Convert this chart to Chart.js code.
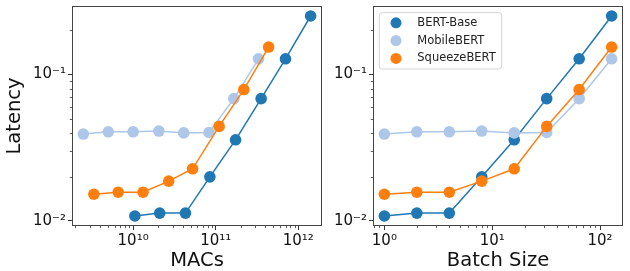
<!DOCTYPE html>
<html>
<head>
<meta charset="utf-8">
<script src="https://cdn.jsdelivr.net/npm/chart.js@4.4.0/dist/chart.umd.min.js"></script>
<style>
html, body { margin: 0; padding: 0; background: #fff; }
#wrap { position: relative; width: 630px; height: 271px; }
canvas { position: absolute; top: 0; }
</style>
</head>
<body>
<div id="wrap">
  <canvas id="left" width="330" height="271" style="left:0"></canvas>
  <canvas id="right" width="300" height="271" style="left:330px"></canvas>
</div>
<script>
// data
const modelNames = ['BERT-Base', 'MobileBERT', 'SqueezeBERT']
const modelColors = ['#1f77b4', '#aec7e8', '#ff7f0e']

const batchSizes = [1, 2, 4, 8, 16, 32, 64, 128]

const macsBert = [1.05e10, 2.1e10, 4.3e10, 8.5e10, 1.74e11, 3.55e11, 7.0e11, 1.41e12]
const macsMobile = [2.5e9, 5.0e9, 1.0e10, 2.05e10, 4.1e10, 8.3e10, 1.66e11, 3.3e11]
const macsSqueeze = [3.35e9, 6.6e9, 1.32e10, 2.7e10, 5.25e10, 1.1e11, 2.19e11, 4.37e11]

const latBert = [0.0108, 0.0113, 0.0113, 0.0200, 0.0358, 0.0684, 0.128, 0.251]
const latMobile = [0.0392, 0.0406, 0.0406, 0.0411, 0.0399, 0.0402, 0.0684, 0.128]
const latSqueeze = [0.0152, 0.0157, 0.0157, 0.0187, 0.0227, 0.0442, 0.0789, 0.154]

// labelled (major) ticks
const macsTicks = [1e10, 1e11, 1e12]
const batchTicks = [1, 10, 100]
const latencyTicks = [0.01, 0.1]

const FONT = 'DejaVu Sans'
const sup = {'0':'⁰','1':'¹','2':'²','3':'³','4':'⁴','5':'⁵','6':'⁶','7':'⁷','8':'⁸','9':'⁹','-':'⁻'}

function powLabel(v) {
    let e = String(Math.round(Math.log10(v)))
    return '10' + e.split('').map(c => sup[c]).join('')
}

// matplotlib style 5% margin on a log axis
function logRange(arrays) {
    let all = [].concat(...arrays).map(v => Math.log10(v))
    let lo = Math.min(...all), hi = Math.max(...all)
    let m = (hi - lo) * 0.05
    return [Math.pow(10, lo - m), Math.pow(10, hi + m)]
}

function makeTicks(majors, min, max) {
    let ticks = []
    for (let d = Math.floor(Math.log10(min)); d <= Math.floor(Math.log10(max)); d++) {
        for (let k = 1; k <= 9; k++) {
            let v = k * Math.pow(10, d)
            if (v < min || v > max) continue
            ticks.push({ value: v, major: majors.some(m => Math.abs(m - v) / m < 1e-9) })
        }
    }
    return ticks
}

function logAxis(range, majors, size, title, titlePad) {
    return {
        type: 'logarithmic',
        min: range[0],
        max: range[1],
        bounds: 'data',
        afterBuildTicks: s => { s.ticks = makeTicks(majors, range[0], range[1]) },
        afterFit: s => {
            if (s.isHorizontal()) s.height = size
            else s.width = size
            s.paddingTop = s.paddingBottom = s.paddingLeft = s.paddingRight = 0
        },
        ticks: {
            autoSkip: false,
            maxRotation: 0,
            padding: 2,
            color: '#111',
            font: { family: FONT, size: 15 },
            callback: (v, i, t) => t[i].major ? powLabel(v) : ''
        },
        grid: {
            drawOnChartArea: false,
            drawTicks: true,
            tickLength: 4,
            tickWidth: 1,
            tickColor: c => (c.tick && c.tick.major) ? '#333' : 'rgba(0,0,0,0)'
        },
        border: { display: false },
        title: title ? {
            display: true,
            text: title,
            color: '#111',
            font: { family: FONT, size: 19.5 },
            padding: titlePad
        } : { display: false }
    }
}

// spines, minor ticks and the legend box
const framePlugin = {
    id: 'frame',
    afterDraw(chart, args, opts) {
        let ctx = chart.ctx
        let a = chart.chartArea
        ctx.save()
        ctx.strokeStyle = '#333'
        ctx.lineWidth = 0.8
        let sx = chart.scales.x, sy = chart.scales.y
        sx.ticks.forEach(t => {
            if (t.major) return
            let p = Math.round(sx.getPixelForValue(t.value)) + 0.5
            ctx.beginPath(); ctx.moveTo(p, a.bottom); ctx.lineTo(p, a.bottom + 2.2); ctx.stroke()
        })
        sy.ticks.forEach(t => {
            if (t.major) return
            let p = Math.round(sy.getPixelForValue(t.value)) + 0.5
            ctx.beginPath(); ctx.moveTo(a.left, p); ctx.lineTo(a.left - 2.2, p); ctx.stroke()
        })
        ctx.strokeStyle = '#444'
        ctx.lineWidth = 1
        ctx.strokeRect(a.left + 0.5, a.top + 0.5, a.right - a.left - 1, a.bottom - a.top - 1)

        if (opts.legend) {
            let x0 = a.left + 6.3, y0 = a.top + 6.7
            ctx.beginPath()
            ctx.roundRect(x0, y0, 122.4, 56.3, 3)
            ctx.fillStyle = 'rgba(255,255,255,0.8)'
            ctx.fill()
            ctx.strokeStyle = '#d3d3d3'
            ctx.stroke()
            ctx.font = '11.5px ' + FONT
            ctx.textBaseline = 'middle'
            chart.data.datasets.forEach((ds, i) => {
                let y = a.top + 16.8 + i * 17.8
                ctx.fillStyle = ds.pointBackgroundColor
                ctx.beginPath(); ctx.arc(a.left + 23, y, 5.5, 0, Math.PI * 2); ctx.fill()
                ctx.fillStyle = '#222'
                ctx.fillText(ds.label, a.left + 44.3, y)
            })
        }
        ctx.restore()
    }
}

function series(xs, ys, i) {
    return {
        label: modelNames[i],
        data: xs.map((x, j) => ({ x: x, y: ys[j] })),
        showLine: true,
        borderColor: modelColors[i],
        backgroundColor: modelColors[i],
        pointBackgroundColor: modelColors[i],
        pointBorderColor: modelColors[i],
        pointBorderWidth: 0,
        pointRadius: 5.8,
        pointHoverRadius: 5.8,
        borderWidth: 1.5,
        order: 3 - i
    }
}

let yRange = logRange([latBert, latMobile, latSqueeze])

let leftChart = new Chart(document.getElementById('left'), {
    type: 'scatter',
    data: {
        datasets: [
            series(macsBert, latBert, 0),
            series(macsMobile, latMobile, 1),
            series(macsSqueeze, latSqueeze, 2)
        ]
    },
    options: {
        responsive: false,
        animation: false,
        layout: { padding: { left: 0, right: 8, top: 6, bottom: 0 } },
        plugins: { legend: { display: false }, tooltip: { enabled: false }, frame: { legend: false } },
        scales: {
            x: logAxis(logRange([macsBert, macsMobile, macsSqueeze]), macsTicks, 45, 'MACs', { top: 0, bottom: -2 }),
            y: logAxis(yRange, latencyTicks, 72, 'Latency', { top: 3.5, bottom: 0 })
        }
    },
    plugins: [framePlugin]
})

let rightChart = new Chart(document.getElementById('right'), {
    type: 'scatter',
    data: {
        datasets: [
            series(batchSizes, latBert, 0),
            series(batchSizes, latMobile, 1),
            series(batchSizes, latSqueeze, 2)
        ]
    },
    options: {
        responsive: false,
        animation: false,
        layout: { padding: { left: 0, right: 7, top: 6, bottom: 0 } },
        plugins: { legend: { display: false }, tooltip: { enabled: false }, frame: { legend: true } },
        scales: {
            x: logAxis(logRange([batchSizes]), batchTicks, 45, 'Batch Size', { top: 0, bottom: -2 }),
            y: logAxis(yRange, latencyTicks, 43, null, null)
        }
    },
    plugins: [framePlugin]
})
</script>
</body>
</html>
